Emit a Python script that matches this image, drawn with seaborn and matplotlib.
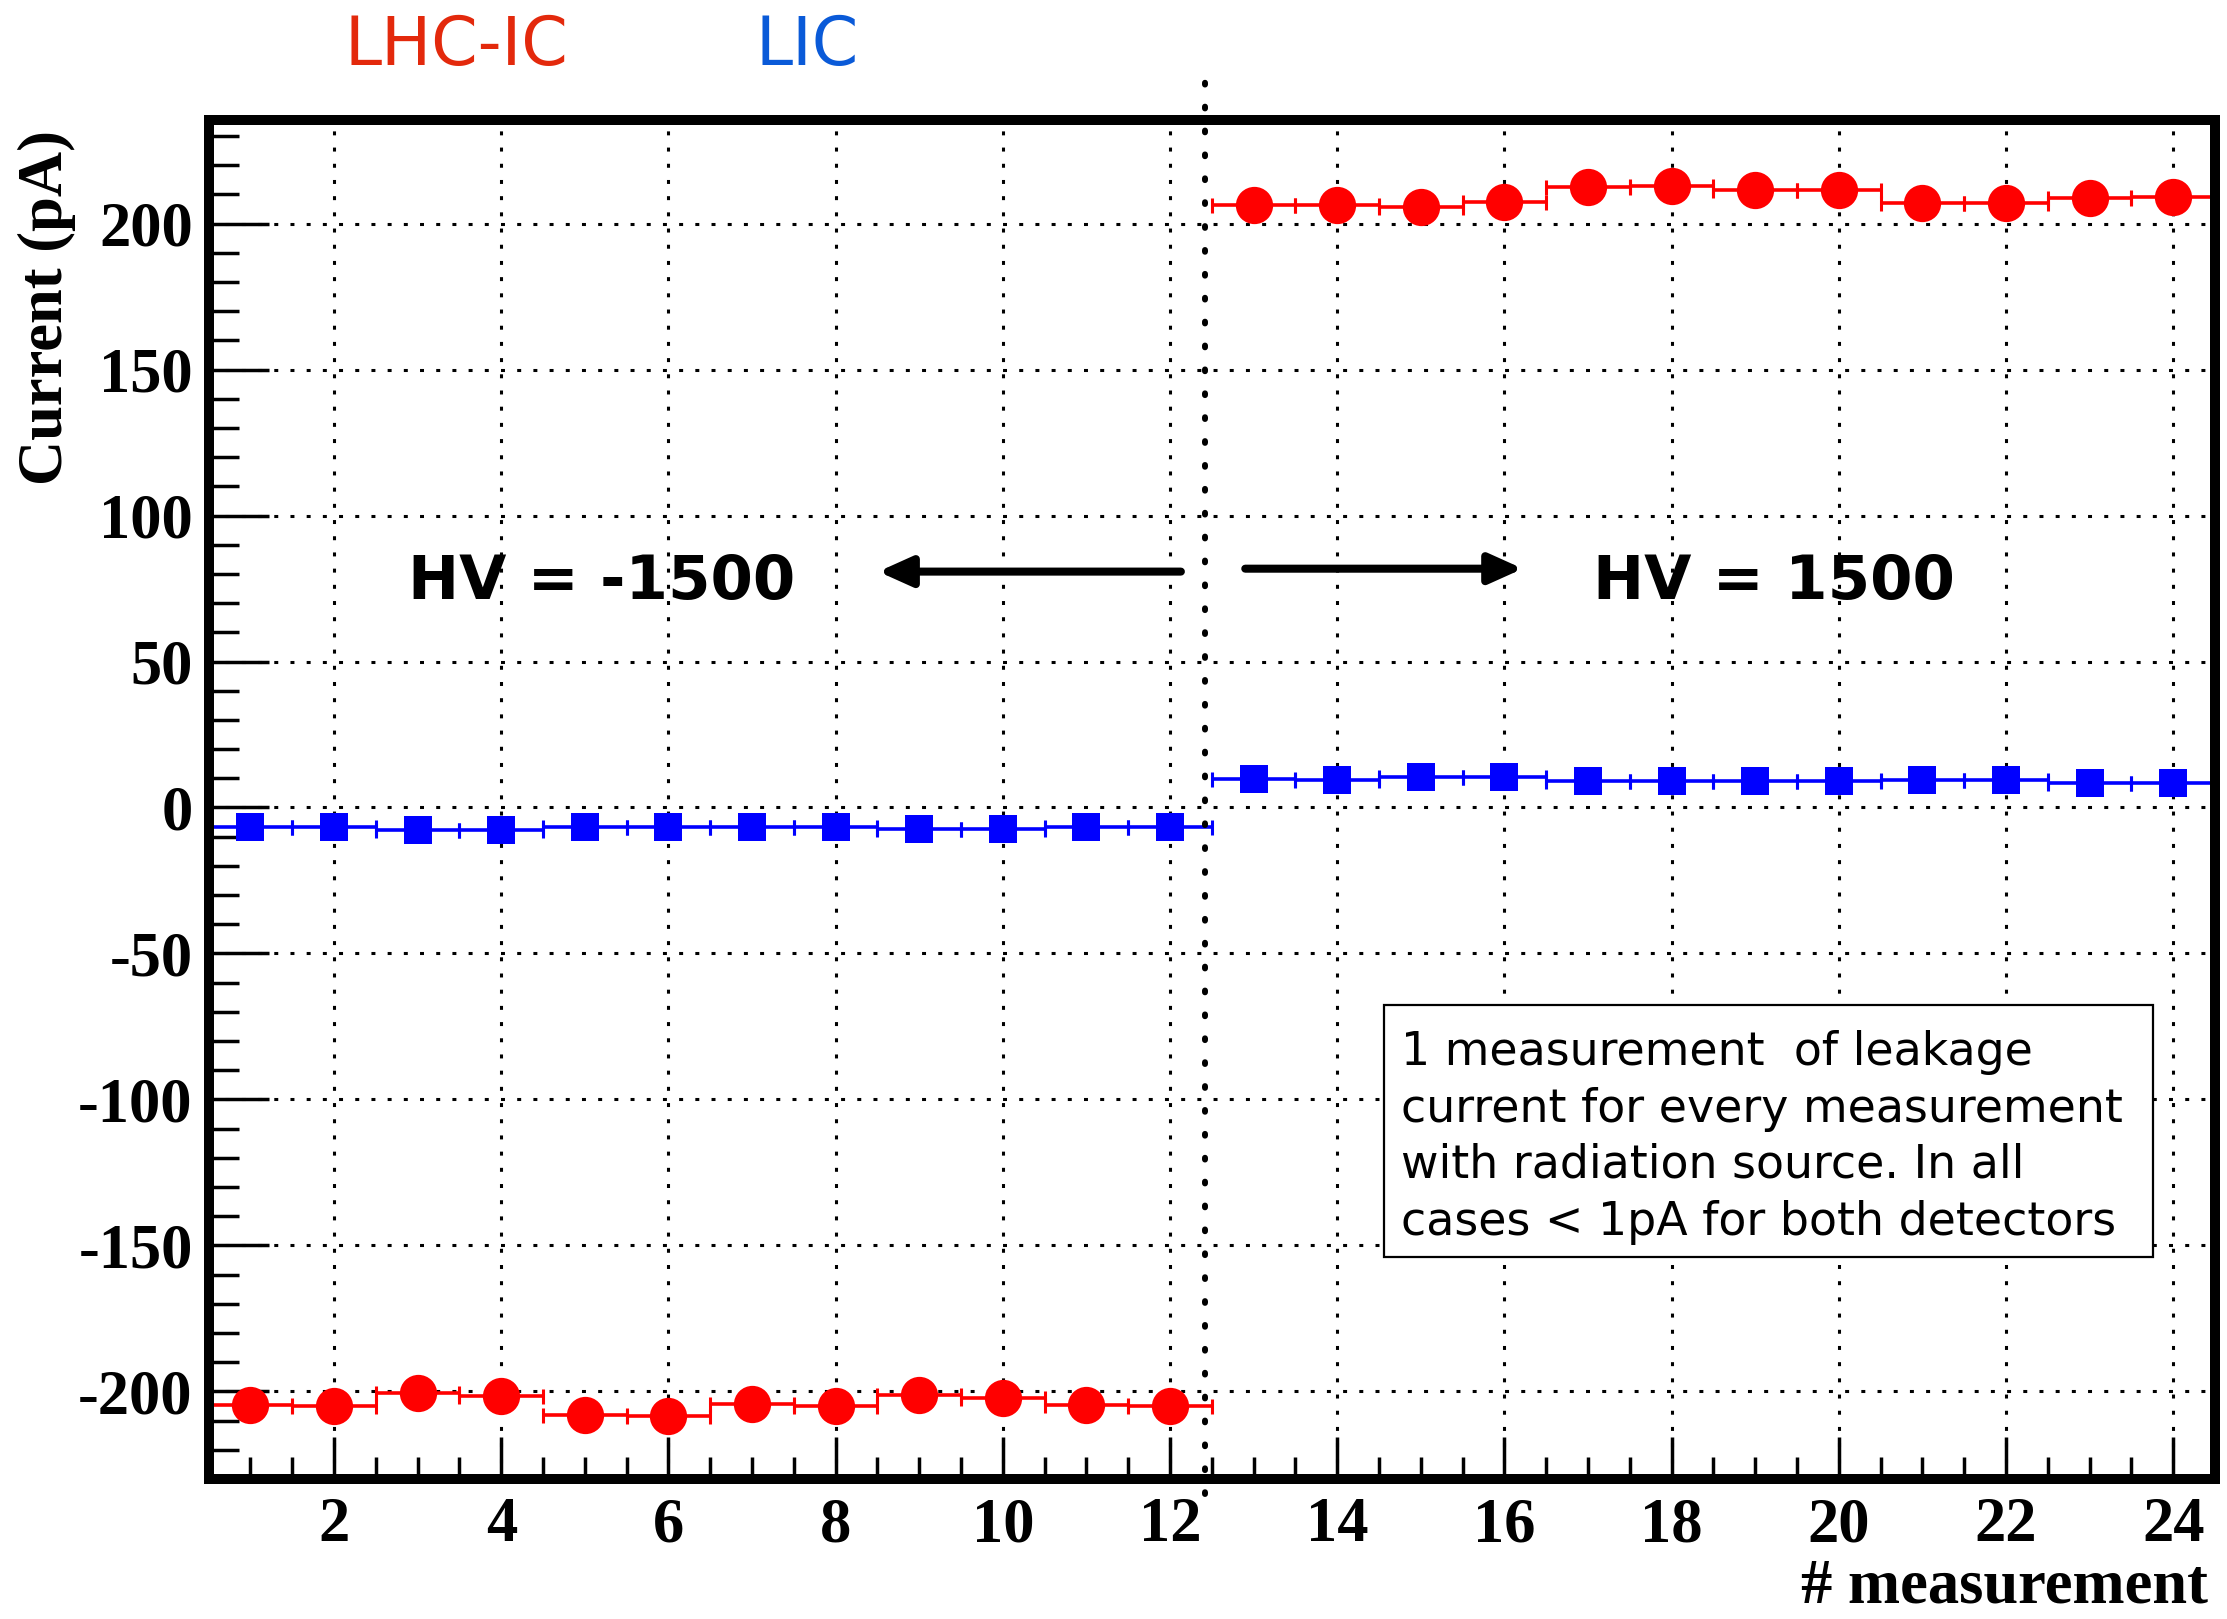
import matplotlib
matplotlib.use("Agg")
import matplotlib.pyplot as plt
from matplotlib.ticker import MultipleLocator
from matplotlib.patches import Rectangle
import pandas as pd
import seaborn as sns

# ---- data -------------------------------------------------------------
measurement = list(range(1, 25))
lhcic_current = [-204.5, -205.1, -200.7, -201.5, -208.0, -208.4,
                 -204.2, -204.9, -201.1, -202.3, -204.6, -204.9,
                 206.5, 206.5, 205.7, 207.3, 212.5, 212.8,
                 211.4, 211.4, 207.2, 207.2, 208.8, 209.1]
lic_current = [-6.8, -6.8, -7.6, -7.6, -6.8, -6.8,
               -6.8, -6.8, -7.3, -7.3, -6.8, -6.8,
               9.7, 9.4, 10.5, 10.5, 9.0, 9.0,
               9.0, 9.0, 9.4, 9.4, 8.5, 8.5]
bin_half_width = 0.5
x_ticks = list(range(2, 25, 2))
y_ticks = list(range(-200, 201, 50))
hv_negative_label = "HV = -1500"
hv_positive_label = "HV = 1500"
note_lines = ["1 measurement  of leakage",
              "current for every measurement",
              "with radiation source. In all",
              "cases < 1pA for both detectors"]

df = pd.DataFrame({
    "measurement": measurement * 2,
    "current": lhcic_current + lic_current,
    "detector": ["LHC-IC"] * len(measurement) + ["LIC"] * len(measurement),
})

# ---- style ------------------------------------------------------------
sns.set_theme(style="white")
plt.rcParams["font.family"] = ["DejaVu Sans"]
plt.rcParams["axes.unicode_minus"] = False
for key in ("text.color", "axes.labelcolor", "xtick.color", "ytick.color",
            "axes.edgecolor"):
    plt.rcParams[key] = "black"

SERIF = "Liberation Serif"
RED = "#ff0000"
BLUE = "#0000ff"

fig = plt.figure(figsize=(22.27, 16.19), dpi=100)
fig.patch.set_facecolor("white")
ax = fig.add_axes([0.0937, 0.0865, 0.9009, 0.8394])
ax.set_facecolor("white")

# horizontal bin-width error bars
for det, col in (("LHC-IC", RED), ("LIC", BLUE)):
    sub = df[df["detector"] == det]
    ax.errorbar(sub["measurement"], sub["current"], xerr=bin_half_width,
                fmt="none", ecolor=col, elinewidth=2.6, capsize=5.4,
                capthick=2.2, zorder=3)

# markers
sns.scatterplot(data=df[df["detector"] == "LHC-IC"], x="measurement", y="current",
                color=RED, marker="o", s=720, linewidth=0, ax=ax, zorder=4,
                legend=False)
sns.scatterplot(data=df[df["detector"] == "LIC"], x="measurement", y="current",
                color=BLUE, marker="s", s=410, linewidth=0, ax=ax, zorder=4,
                legend=False)

# ---- axes -------------------------------------------------------------
ax.set_xlim(0.5, 24.5)
ax.set_ylim(-230, 235.5)
ax.set_xlabel("")
ax.set_ylabel("")

label_font = dict(family=SERIF, weight="bold", size=45, color="black")
ax.set_xticks(x_ticks)
ax.set_xticklabels([str(v) for v in x_ticks], fontdict=label_font)
ax.set_yticks(y_ticks)
ax.set_yticklabels([str(v) for v in y_ticks], fontdict=label_font)
ax.xaxis.set_minor_locator(MultipleLocator(0.5))
ax.yaxis.set_minor_locator(MultipleLocator(10))

ax.tick_params(axis="both", which="both", direction="in", top=False,
               right=False, bottom=True, left=True, color="black",
               labelcolor="black")
ax.tick_params(axis="y", which="major", length=43, width=2.5, pad=11.5)
ax.tick_params(axis="y", which="minor", length=21.6, width=2.5)
ax.tick_params(axis="x", which="major", length=30, width=2.5, pad=13)
ax.tick_params(axis="x", which="minor", length=16, width=2.5)

ax.set_axisbelow(True)
ax.grid(True, which="major", color="black", linestyle=(0, (1.3, 4.0)),
        linewidth=2.2)

for sp in ax.spines.values():
    sp.set_visible(True)
    sp.set_color("black")
    sp.set_linewidth(7.2)
    sp.set_zorder(7)

# axis titles
fig.text(0.9915, 0.0099, "# measurement", ha="right", va="baseline",
         family=SERIF, weight="bold", size=45, color="black")
fig.text(0.021, 0.810, "Current (pA)", rotation=90, ha="center", va="center",
         family=SERIF, weight="bold", size=45, color="black")

# detector names
fig.text(0.2048, 0.9598, "LHC-IC", ha="center", va="baseline",
         color="#e3290c", size=48)
fig.text(0.3624, 0.9598, "LIC", ha="center", va="baseline",
         color="#0a5ad8", size=48)

# polarity split
ax.plot([12.42, 12.42], [-235, 252.5], color="black", lw=4.3,
        linestyle=(0, (0.3, 3.7)), dash_capstyle="round", clip_on=False,
        zorder=6)

ax.text(5.2, 71.5, hv_negative_label, ha="center", va="baseline",
        size=44, weight="bold", color="black", zorder=6)
ax.text(19.23, 71.5, hv_positive_label, ha="center", va="baseline",
        size=44, weight="bold", color="black", zorder=6)

arrow_style = dict(arrowstyle="-|>,head_length=1.0,head_width=0.45",
                   lw=5.8, color="black", shrinkA=0, shrinkB=0,
                   mutation_scale=20)
ax.annotate("", xy=(8.51, 80.8), xytext=(12.13, 80.8), arrowprops=arrow_style,
            zorder=6)
ax.annotate("", xy=(16.22, 81.8), xytext=(12.90, 81.8), arrowprops=arrow_style,
            zorder=6)

# note box
ax.add_patch(Rectangle((0.5858, 0.1633), 0.969 - 0.5858, 0.3488 - 0.1633,
                       transform=ax.transAxes, facecolor="white",
                       edgecolor="black", lw=1.6, zorder=5))
for line, yb in zip(note_lines, (0.3046, 0.2627, 0.2215, 0.1795)):
    ax.text(0.5943, yb, line, transform=ax.transAxes, ha="left",
            va="baseline", size=33, color="black", zorder=6)

fig.savefig("out.png", dpi=100, facecolor="white")
